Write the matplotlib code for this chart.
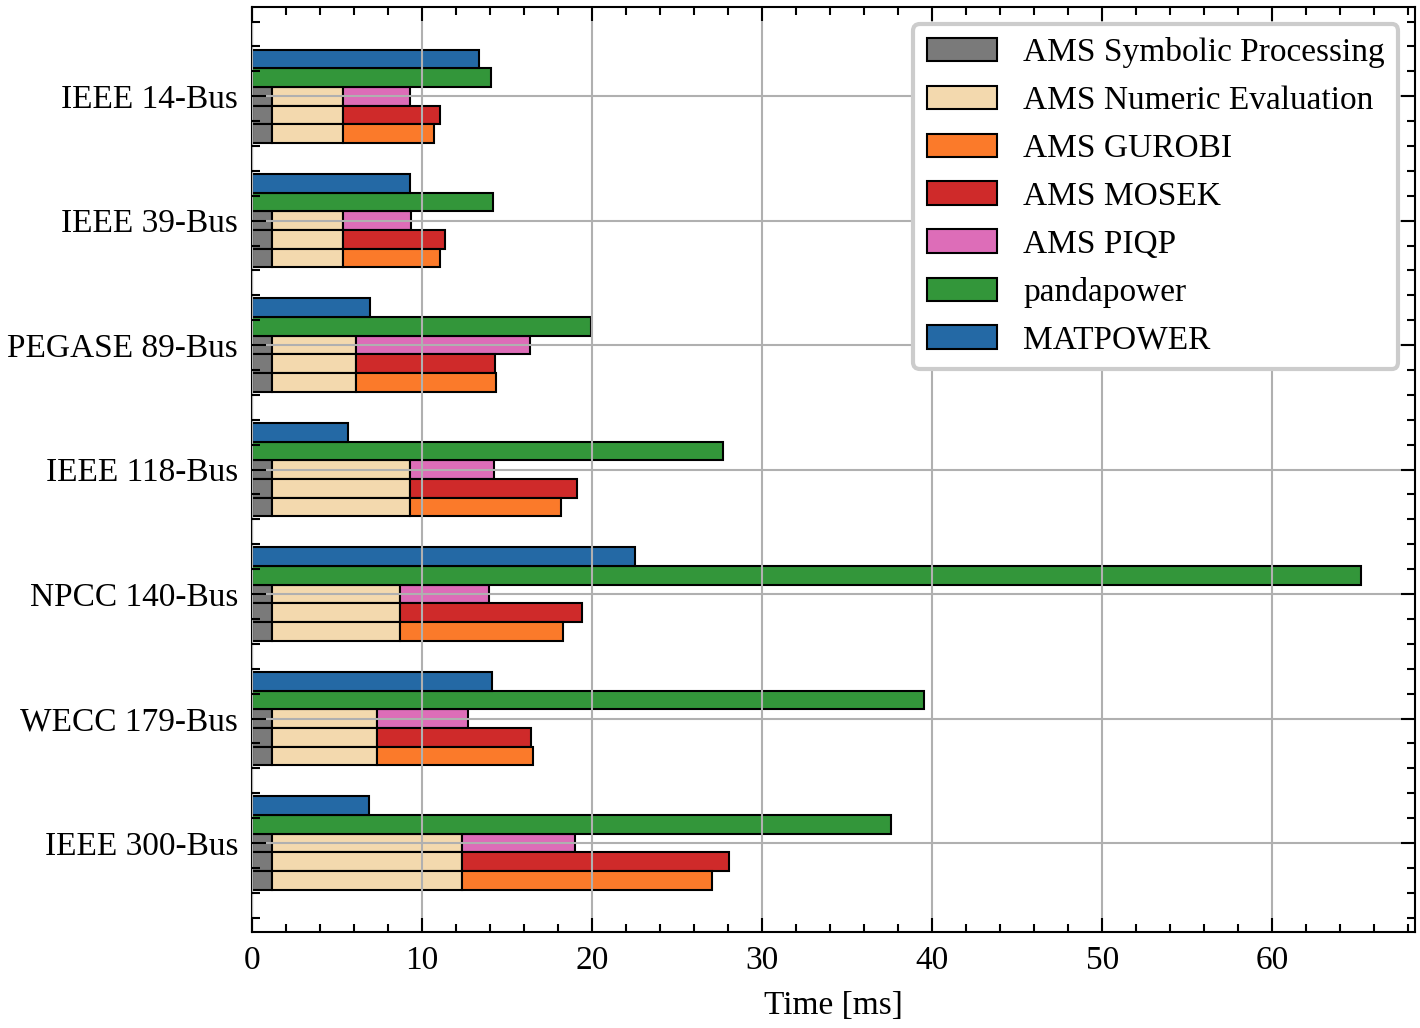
import matplotlib.pyplot as plt
import numpy as np
from matplotlib.ticker import AutoMinorLocator

cases = ["IEEE 14-Bus", "IEEE 39-Bus", "PEGASE 89-Bus", "IEEE 118-Bus",
         "NPCC 140-Bus", "WECC 179-Bus", "IEEE 300-Bus"]

# times in ms
ams_symbolic = [1.18, 1.18, 1.18, 1.18, 1.18, 1.18, 1.18]
ams_numeric = [4.17, 4.17, 4.94, 8.12, 7.52, 6.17, 11.17]   # stacked after symbolic
ams_gurobi = [5.35, 5.71, 8.23, 8.9, 9.6, 9.15, 14.71]
ams_mosek = [5.71, 6.0, 8.18, 9.8, 10.7, 9.05, 15.71]
ams_piqp = [3.95, 4.0, 10.23, 4.94, 5.24, 5.35, 6.65]
pandapower = [14.06, 14.18, 19.94, 27.7, 65.2, 39.5, 37.6]
matpower = [13.35, 9.3, 6.94, 5.65, 22.5, 14.1, 6.9]

c_sym = "#7a7a7a"
c_num = "#f3d9ae"
c_gur = "#fb7a2a"
c_mos = "#cf2a2a"
c_piq = "#dd6db8"
c_pp = "#33963a"
c_mp = "#2469a5"

plt.rcParams["font.family"] = ["Liberation Serif", "DejaVu Serif"]
plt.rcParams["font.size"] = 24

fig = plt.figure(figsize=(14.2, 10.28), dpi=100)
ax = fig.add_axes([0.1775, 0.0934, 0.819, 0.8996])

y = np.arange(len(cases))
h = 0.15
kw = dict(height=h, edgecolor="black", linewidth=1.5)

sym = np.array(ams_symbolic)
num = np.array(ams_numeric)
base = sym + num

# row offsets within each case (y axis is inverted)
rows = {"mp": -2 * h, "pp": -h, "piqp": 0.0, "mosek": h, "gurobi": 2 * h}

handles = {}
for key, solver, col in [("piqp", ams_piqp, c_piq), ("mosek", ams_mosek, c_mos),
                         ("gurobi", ams_gurobi, c_gur)]:
    yy = y + rows[key]
    handles["sym"] = ax.barh(yy, sym, color=c_sym, **kw)
    handles["num"] = ax.barh(yy, num, left=sym, color=c_num, **kw)
    handles[key] = ax.barh(yy, solver, left=base, color=col, **kw)

handles["pp"] = ax.barh(y + rows["pp"], pandapower, color=c_pp, **kw)
handles["mp"] = ax.barh(y + rows["mp"], matpower, color=c_mp, **kw)

ax.set_yticks(y)
ax.set_yticklabels(cases)
ax.set_ylim(6.715, -0.715)
ax.set_xlim(0, 68.4)
ax.set_xlabel("Time [ms]", labelpad=10)

ax.xaxis.set_minor_locator(AutoMinorLocator(5))
ax.yaxis.set_minor_locator(AutoMinorLocator(5))
ax.tick_params(which="both", direction="in", top=True, right=True, width=1.5)
ax.tick_params(which="major", length=10, pad=10)
ax.tick_params(which="minor", length=6)
for s in ax.spines.values():
    s.set_linewidth(1.5)

ax.grid(True, color="#b0b0b0", linewidth=1.5)
ax.set_axisbelow(False)

leg = ax.legend(
    [handles["sym"], handles["num"], handles["gurobi"], handles["mosek"],
     handles["piqp"], handles["pp"], handles["mp"]],
    ["AMS Symbolic Processing", "AMS Numeric Evaluation", "AMS GUROBI",
     "AMS MOSEK", "AMS PIQP", "pandapower", "MATPOWER"],
    loc="upper right", fontsize=24, handlelength=2.1, handleheight=0.7,
    handletextpad=0.8, borderpad=0.4, labelspacing=0.52, framealpha=1.0,
    fancybox=True, borderaxespad=0.5)
leg.get_frame().set_edgecolor("#cccccc")
leg.get_frame().set_linewidth(3)

fig.savefig("out.png", dpi=100)
